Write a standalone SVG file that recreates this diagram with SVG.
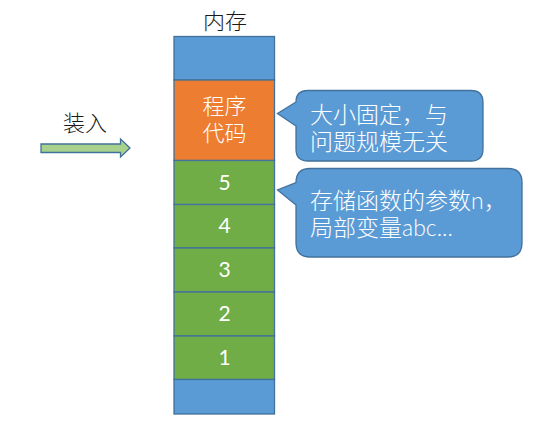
<svg xmlns="http://www.w3.org/2000/svg" width="542" height="440" viewBox="0 0 542 440">
<style>
.cell{stroke:#41719c;stroke-width:1.3}
.blue{fill:#5b9bd5}
.orange{fill:#ed7d31}
.green{fill:#70ad47}
.w{fill:#ffffff;font-family:Lato,"Noto Sans CJK SC",sans-serif;font-size:22px;font-weight:300}
.k{fill:#1a1a1a;font-family:Lato,"Noto Sans CJK SC",sans-serif;font-size:22px;font-weight:300}
.n{font-size:21px;font-weight:400}
.t{font-size:23px}
.c{text-anchor:middle}
.callout{fill:#5b9bd5;stroke:#41719c;stroke-width:1.3}
</style>
<rect width="542" height="440" fill="#ffffff"/>
<text class="k c" x="225" y="28.5">内存</text>
<text class="k" x="63" y="131">装入</text>
<g id="connectors">
<path d="M41,144 H120.5 V139 L130,148 L120.5,157 V152.5 H41 Z" fill="#a9d18e" stroke="#41719c" stroke-width="1.3"/>
</g>
<g id="top"><rect class="cell blue" x="174" y="36.5" width="100.5" height="43.5"/></g>
<g id="code"><rect class="cell orange" x="174" y="80" width="100.5" height="80.5"/>
<text class="w c" x="224.5" y="114">程序</text><text class="w c" x="224.5" y="141">代码</text></g>
<g id="c5"><rect class="cell green" x="174" y="160.5" width="100.5" height="44"/><text class="w c n" x="224.5" y="189.5">5</text></g>
<g id="c4"><rect class="cell green" x="174" y="204.5" width="100.5" height="43.5"/><text class="w c n" x="224.5" y="233">4</text></g>
<g id="c3"><rect class="cell green" x="174" y="248" width="100.5" height="44"/><text class="w c n" x="224.5" y="277">3</text></g>
<g id="c2"><rect class="cell green" x="174" y="292" width="100.5" height="44"/><text class="w c n" x="224.5" y="321">2</text></g>
<g id="c1"><rect class="cell green" x="174" y="336" width="100.5" height="43.5"/><text class="w c n" x="224.5" y="365">1</text></g>
<g id="bottom"><rect class="cell blue" x="174" y="379.5" width="100.5" height="34.5"/></g>
<g id="callout1">
<path class="callout" d="M308,90.5 H471 Q483,90.5 483,102.5 V149 Q483,161 471,161 H308 Q296,161 296,149 V126 L277.5,113.5 L296,102 Q296,90.5 308,90.5 Z"/>
<text class="w t" x="310" y="123">大小固定，与</text>
<text class="w t" x="310" y="149.5">问题规模无关</text>
</g>
<g id="callout2">
<path class="callout" d="M310,168.5 H508 Q522,168.5 522,182.5 V243 Q522,257 508,257 H310 Q296,257 296,243 V205 L277.5,190 L296,182.5 Q296,168.5 310,168.5 Z"/>
<text class="w t" x="310" y="209">存储函数的参数n，</text>
<text class="w t" x="310" y="236">局部变量abc...</text>
</g>
</svg>
